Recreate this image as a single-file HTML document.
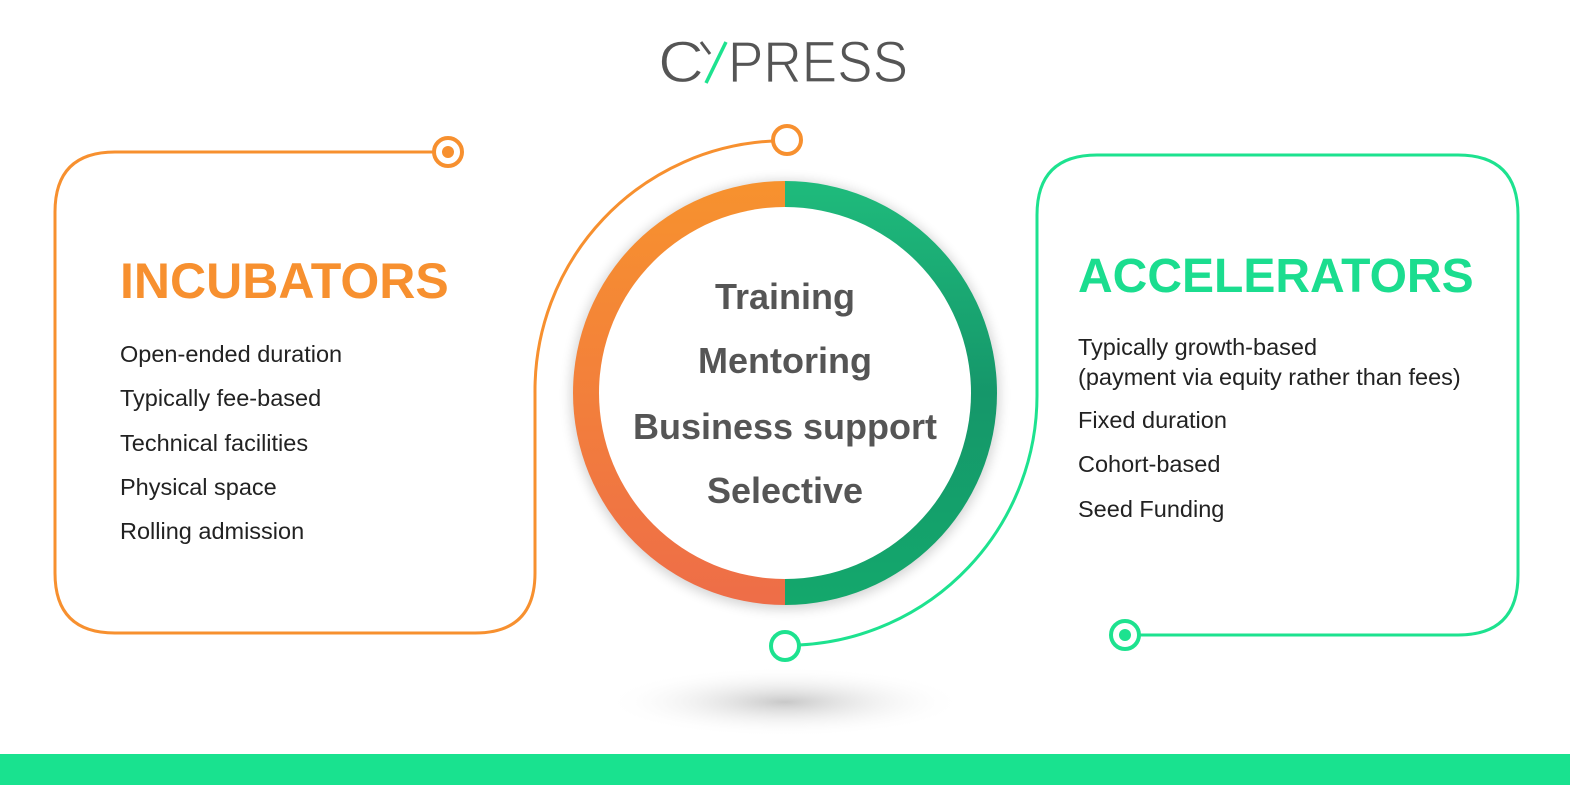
<!DOCTYPE html>
<html><head><meta charset="utf-8"><style>
html,body{margin:0;padding:0;background:#fff;}
body{width:1570px;height:785px;position:relative;overflow:hidden;font-family:"Liberation Sans",Arial,sans-serif;}
.t{position:absolute;white-space:nowrap;}
.item{font-size:23.5px;color:#222;line-height:28px;}
.c{font-weight:bold;color:#555;font-size:36px;width:400px;left:585px;text-align:center;}
</style></head><body>
<svg width="1570" height="785" style="position:absolute;left:0;top:0">
<defs>
<linearGradient id="og" x1="0" y1="0" x2="0" y2="1"><stop offset="0" stop-color="#f7922e"/><stop offset="1" stop-color="#ee6d48"/></linearGradient>
<linearGradient id="gg" x1="0" y1="0" x2="0" y2="1"><stop offset="0" stop-color="#1fbb7c"/><stop offset="0.5" stop-color="#15976a"/><stop offset="1" stop-color="#14a86c"/></linearGradient>
<radialGradient id="sh" cx="0.5" cy="0.5" r="0.5"><stop offset="0" stop-color="#c8c8c8"/><stop offset="1" stop-color="#fff" stop-opacity="0"/></radialGradient>
<filter id="blur" x="-20%" y="-20%" width="140%" height="140%"><feGaussianBlur stdDeviation="6"/></filter>
</defs>
<ellipse cx="785" cy="702" rx="180" ry="35" fill="url(#sh)"/>
<circle cx="785" cy="395" r="214" fill="#000" opacity="0.18" filter="url(#blur)"/>
<path d="M785 181 A212 212 0 0 0 785 605 Z" fill="url(#og)"/>
<path d="M785 181 A212 212 0 0 1 785 605 Z" fill="url(#gg)"/>
<circle cx="785" cy="393" r="186" fill="#fff"/>
<g fill="none" stroke="#f7902f" stroke-width="3">
<path d="M434 152 H115 Q55 152 55 212 V573 Q55 633 115 633 H475 Q535 633 535 573 V393 A250 250 0 0 1 773 141"/>
<circle cx="448" cy="152" r="14" stroke-width="4"/>
<circle cx="787" cy="140" r="14" stroke-width="4"/>
</g>
<circle cx="448" cy="152" r="6" fill="#f7902f"/>
<g fill="none" stroke="#1de28f" stroke-width="3">
<path d="M799 645 A250 250 0 0 0 1037 393 V215 Q1037 155 1097 155 H1458 Q1518 155 1518 215 V575 Q1518 635 1458 635 H1139"/>
<circle cx="785" cy="646" r="14" stroke-width="4"/>
<circle cx="1125" cy="635" r="14" stroke-width="4"/>
</g>
<circle cx="1125" cy="635" r="6" fill="#1de28f"/>
<rect x="0" y="754" width="1570" height="31" fill="#19e28f"/>
<g fill="#555" font-family="Liberation Sans, sans-serif" font-size="58" stroke="#fff" stroke-width="1.2">
<text x="658" y="82" textLength="46" lengthAdjust="spacingAndGlyphs">C</text>
<text x="728" y="82" textLength="180" lengthAdjust="spacingAndGlyphs">PRESS</text>
</g>
<line x1="701" y1="42" x2="710" y2="54" stroke="#555" stroke-width="3"/>
<line x1="706" y1="83" x2="726" y2="42" stroke="#1de28f" stroke-width="3.5"/>
</svg>
<div class="t" style="left:120px;top:252px;font-size:50px;font-weight:bold;color:#f7902f;">INCUBATORS</div>
<div class="t item" style="left:120px;top:340px">Open-ended duration</div>
<div class="t item" style="left:120px;top:384px">Typically fee-based</div>
<div class="t item" style="left:120px;top:429px">Technical facilities</div>
<div class="t item" style="left:120px;top:473px">Physical space</div>
<div class="t item" style="left:120px;top:517px">Rolling admission</div>
<div class="t" style="left:1078px;top:249px;font-size:48px;font-weight:bold;color:#1bdd8f;">ACCELERATORS</div>
<div class="t item" style="left:1078px;top:332px;line-height:30px">Typically growth-based<br>(payment via equity rather than fees)</div>
<div class="t item" style="left:1078px;top:406px">Fixed duration</div>
<div class="t item" style="left:1078px;top:450px">Cohort-based</div>
<div class="t item" style="left:1078px;top:495px">Seed Funding</div>
<div class="t c" style="top:276px">Training</div>
<div class="t c" style="top:340px">Mentoring</div>
<div class="t c" style="top:406px">Business support</div>
<div class="t c" style="top:470px">Selective</div>
</body></html>
